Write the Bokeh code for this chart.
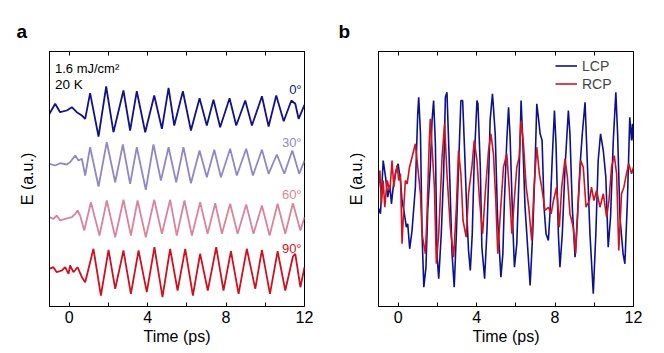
from bokeh.plotting import figure
from bokeh.models import FixedTicker, LinearAxis, Label, Range1d, Legend, LegendItem
from bokeh.layouts import row
from bokeh.embed import file_html
from bokeh.resources import INLINE

FONT = "Liberation Sans"

# ---------------- Panel a data (time in ps, E in a.u., vertically offset traces) ----------------
t_0 = [-1.0, -0.71, -0.46, -0.12, 0.14, 0.39, 0.65, 0.82, 1.07, 1.50, 1.89, 2.26, 2.77, 3.11, 3.45, 3.88,
       4.34, 4.73, 5.07, 5.36, 5.80, 6.21, 6.65, 7.02, 7.36, 7.70, 8.18, 8.52, 8.98, 9.32, 9.83, 10.17,
       10.56, 10.94, 11.33, 11.53, 11.70, 12.0]
e_0 = [192.7, 202.7, 194.3, 196, 199.3, 194.3, 191, 187.7, 213.3, 170, 220, 174.3, 216, 176, 215.3, 174.3,
       211, 177.7, 218.7, 181, 215.3, 176, 208.3, 181, 206.7, 179.3, 208.3, 181, 206, 181, 210.3, 180,
       211, 185.3, 206, 202.7, 187.7, 201.7]

t_30 = [-1.0, -0.71, -0.46, -0.12, 0.05, 0.31, 0.48, 0.65, 0.82, 1.07, 1.50, 1.92, 2.35, 2.74, 3.11, 3.45,
        3.91, 4.30, 4.68, 5.07, 5.46, 5.83, 6.21, 6.65, 7.02, 7.40, 7.74, 8.21, 8.55, 9.03, 9.37, 9.83,
        10.17, 10.59, 10.97, 11.38, 11.73, 12.0]
e_30 = [142.7, 141, 143.3, 142, 144.3, 151, 146, 147.7, 131, 159.3, 120, 164.3, 124.3, 162, 122.7, 159.3,
        116.7, 162, 126, 159.3, 124.3, 159.3, 123.3, 156, 129.3, 156.7, 129.3, 157.7, 131, 157.7, 131, 156.7,
        132.7, 152, 132.7, 156, 132.7, 146]

t_60 = [-1.0, -0.80, -0.63, -0.46, -0.20, 0.14, 0.31, 0.43, 0.56, 0.77, 1.11, 1.55, 1.92, 2.35, 2.77, 3.15,
        3.49, 3.91, 4.34, 4.73, 5.15, 5.49, 5.88, 6.26, 6.68, 7.06, 7.45, 7.79, 8.21, 8.59, 9.03, 9.40,
        9.83, 10.22, 10.63, 11.02, 11.41, 11.79, 12.0]
e_60 = [89.3, 87.7, 91, 86, 87.7, 89.3, 92.7, 96, 91, 76, 104.3, 71, 106, 69.3, 106.7, 71,
        106, 69.3, 106.7, 72.7, 106.7, 71, 106, 71, 104.3, 72.7, 103.3, 72.7, 102.7, 72.7, 102, 72.7,
        101, 71, 102.7, 72.7, 103.3, 76, 89.3]

t_90 = [-1.0, -0.80, -0.63, -0.37, -0.20, -0.03, 0.05, 0.22, 0.43, 0.65, 0.82, 1.24, 1.62, 2.01, 2.35, 2.77,
        3.15, 3.54, 3.96, 4.35, 4.76, 5.15, 5.53, 5.92, 6.31, 6.68, 7.07, 7.50, 7.87, 8.25, 8.64, 9.06,
        9.49, 9.83, 10.24, 10.63, 11.02, 11.41, 11.53, 11.79, 12.0]
e_90 = [37.7, 39.3, 34.3, 36, 39.3, 32.7, 41, 34.3, 39.3, 29.3, 24.3, 57.7, 11, 56.7, 17.7, 56,
        12.7, 56, 14.3, 59.3, 9.3, 57.7, 16, 57.7, 11, 52.7, 16, 59.3, 16, 55.3, 12.7, 57.7,
        17.7, 56.7, 12.7, 55.3, 16, 50, 52.7, 19.3, 39.3]

angle_labels = ["0°", "30°", "60°", "90°"]
angle_label_y = [217, 164, 112, 58]
angle_colors = ["#11118a", "#9187c6", "#d98499", "#d0101f"]

# ---------------- Panel b data ----------------
t_lcp = [-1.02, -0.90, -0.76, -0.64, -0.53, -0.42, -0.34, -0.25, -0.14, 0.0, 0.12, 0.20, 0.32, 0.42, 0.49, 0.59,
         0.71, 0.88, 1.00, 1.05, 1.14, 1.22, 1.31, 1.42, 1.51, 1.64, 1.73, 1.81, 1.90, 1.98, 2.07, 2.20,
         2.32, 2.41, 2.49, 2.59, 2.75, 2.86, 2.97, 3.08, 3.20, 3.29, 3.39, 3.51, 3.59, 3.68, 3.78, 3.88,
         4.02, 4.07, 4.19, 4.27, 4.41, 4.53, 4.63, 4.69, 4.81, 4.86, 4.95, 5.07, 5.24, 5.34, 5.42, 5.54,
         5.63, 5.71, 5.85, 5.93, 6.05, 6.17, 6.27, 6.36, 6.47, 6.56, 6.73, 6.86, 6.98, 7.07, 7.15, 7.24,
         7.34, 7.44, 7.54, 7.66, 7.75, 7.86, 7.97, 8.05, 8.17, 8.25, 8.37, 8.51, 8.68, 8.76, 8.88, 9.02,
         9.14, 9.27, 9.39, 9.53, 9.61, 9.78, 9.95, 10.08, 10.20, 10.32, 10.46, 10.59, 10.71, 10.83, 10.97, 11.10,
         11.19, 11.31, 11.47, 11.56, 11.69, 11.81, 11.90, 11.95, 12.0]
e_lcp = [99.3, 92.7, 146, 129.3, 109.3, 121, 102.7, 119.3, 132.7, 142.7, 126, 106, 92.7, 79.3, 82.7, 57.7,
         76, 119.3, 192.7, 209.3, 172.7, 72.7, 19.3, 39.3, 96, 139.3, 186, 206, 162.7, 52.7, 27.7, 72.7,
         132.7, 209.3, 214.3, 156, 52.7, 19.3, 72.7, 139.3, 206, 206, 156, 89.3, 56, 36, 72.7, 146,
         206, 202.7, 139.3, 59.3, 27.7, 76, 139.3, 186, 212.7, 199.3, 172.7, 89.3, 29.3, 52.7, 106, 166,
         199.3, 169.3, 79.3, 39.3, 62.7, 132.7, 206, 162.7, 99.3, 72.7, 21, 72.7, 139.3, 202.7, 189.3, 172.7,
         166, 99.3, 72.7, 66, 96, 149.3, 196, 162.7, 72.7, 39.3, 72.7, 139.3, 196, 172.7, 99.3, 49.3,
         89.3, 139.3, 172.7, 204.3, 162.7, 72.7, 12.7, 72.7, 146, 172.7, 156, 129.3, 59.3, 89.3, 166, 214.3,
         172.7, 89.3, 52.7, 42.7, 106, 189.3, 166, 182.7, 166]

t_rcp = [-1.02, -0.93, -0.85, -0.76, -0.68, -0.56, -0.42, -0.31, -0.22, -0.14, -0.05, 0.03, 0.12, 0.20, 0.29, 0.37,
         0.46, 0.58, 0.71, 0.88, 1.00, 1.14, 1.22, 1.39, 1.47, 1.59, 1.64, 1.73, 1.85, 1.95, 2.07, 2.24,
         2.37, 2.49, 2.66, 2.83, 2.97, 3.08, 3.20, 3.31, 3.47, 3.59, 3.76, 3.88, 4.02, 4.15, 4.31, 4.44,
         4.61, 4.73, 4.86, 4.98, 5.08, 5.20, 5.37, 5.54, 5.66, 5.80, 5.92, 6.05, 6.17, 6.27, 6.39, 6.53,
         6.66, 6.81, 6.93, 7.07, 7.20, 7.32, 7.49, 7.66, 7.80, 7.92, 8.08, 8.22, 8.34, 8.51, 8.63, 8.76,
         8.93, 9.05, 9.19, 9.31, 9.44, 9.58, 9.75, 9.86, 9.98, 10.12, 10.29, 10.46, 10.63, 10.75, 10.88, 11.02,
         11.14, 11.25, 11.39, 11.51, 11.64, 11.76, 11.90, 12.0]
e_rcp = [116, 136, 102.7, 126, 99.3, 126, 116, 146, 119.3, 132.7, 141, 126, 132.7, 62.7, 99.3, 126,
         122.7, 139.3, 149.3, 162.7, 139.3, 112.7, 72.7, 52.7, 89.3, 166, 187.7, 159.3, 119.3, 42.7, 72.7, 149.3,
         182.7, 132.7, 79.3, 49.3, 99.3, 156, 132.7, 86, 69.3, 112.7, 139.3, 166, 146, 106, 72.7, 112.7,
         156, 172.7, 152.7, 106, 52.7, 89.3, 139.3, 152.7, 119.3, 72.7, 106, 139.3, 149.3, 186, 162.7, 119.3,
         99.3, 66, 119.3, 159.3, 132.7, 119.3, 96, 99.3, 92.7, 106, 119.3, 79.3, 119.3, 147.7, 129.3, 92.7,
         79.3, 52.7, 106, 146, 139.3, 99.3, 106, 119.3, 106, 116, 99.3, 112.7, 89.3, 106, 139.3, 151,
         132.7, 56, 112.7, 119.3, 132.7, 142.7, 132.7, 139.3]

lcp_color = "#0c128c"
rcp_color = "#d0141f"

x_ticks = [0, 4, 8, 12]
x_minor = [2, 6, 10]

BORDER_TOP = 51
BORDER_BOTTOM = 46


def style(p, left_label, letter, letter_offset):
    p.grid.visible = False
    p.outline_line_color = "black"
    p.outline_line_width = 1
    p.background_fill_color = "white"
    p.border_fill_color = "white"
    p.title.text = letter
    p.title.align = "left"
    p.title.offset = letter_offset
    p.title.standoff = 19
    p.title.text_font = FONT
    p.title.text_font_size = "19px"
    p.title.text_font_style = "bold"
    p.title.text_color = "black"
    xa = p.xaxis[0]
    xa.ticker = FixedTicker(ticks=x_ticks, minor_ticks=x_minor)
    xa.major_tick_in = 4
    xa.major_tick_out = 0
    xa.minor_tick_in = 4
    xa.minor_tick_out = 0
    xa.axis_line_color = "black"
    xa.major_label_text_font = FONT
    xa.major_label_text_font_size = "16px"
    xa.major_label_text_color = "black"
    xa.major_label_standoff = 4
    xa.axis_label = "Time (ps)"
    xa.axis_label_text_font = FONT
    xa.axis_label_text_font_size = "16px"
    xa.axis_label_text_font_style = "normal"
    xa.axis_label_text_color = "black"
    xa.axis_label_standoff = 2
    ya = p.yaxis[0]
    ya.ticker = FixedTicker(ticks=[])
    ya.major_tick_in = 0
    ya.major_tick_out = 0
    ya.minor_tick_in = 0
    ya.minor_tick_out = 0
    ya.axis_label = left_label
    ya.axis_label_text_font = FONT
    ya.axis_label_text_font_size = "16px"
    ya.axis_label_text_font_style = "normal"
    ya.axis_label_text_color = "black"
    ya.axis_label_standoff = 14
    top = LinearAxis(ticker=FixedTicker(ticks=x_ticks, minor_ticks=x_minor),
                     major_tick_in=4, major_tick_out=0, minor_tick_in=4, minor_tick_out=0,
                     major_label_overrides={0: "", 4: "", 8: "", 12: ""},
                     major_label_standoff=0, axis_line_color="black")
    p.add_layout(top, "above")


# ---------------- Panel a ----------------
pa = figure(frame_width=255, frame_height=255, min_border_left=49, min_border_right=26,
            min_border_top=BORDER_TOP, min_border_bottom=BORDER_BOTTOM, output_backend="svg",
            toolbar_location=None, x_range=Range1d(-1, 12), y_range=Range1d(0, 255))
style(pa, "E (a.u.)", "a", -33)
for tt, ee, c in zip([t_0, t_30, t_60, t_90], [e_0, e_30, e_60, e_90], angle_colors):
    pa.line(tt, ee, line_color=c, line_width=1.8)
for txt, yy, c in zip(angle_labels, angle_label_y, angle_colors):
    pa.add_layout(Label(x=11.85, y=yy, text=txt, text_align="right", text_baseline="middle",
                        text_font=FONT, text_font_size="13px", text_color=c))
pa.add_layout(Label(x=-0.72, y=238, text="1.6 mJ/cm²", text_align="left", text_baseline="middle",
                    text_font=FONT, text_font_size="13px", text_color="black"))
pa.add_layout(Label(x=-0.72, y=222, text="20 K", text_align="left", text_baseline="middle",
                    text_font=FONT, text_font_size="13.5px", text_color="black"))

# ---------------- Panel b ----------------
pb = figure(frame_width=255, frame_height=255, min_border_left=48, min_border_right=20,
            min_border_top=BORDER_TOP, min_border_bottom=BORDER_BOTTOM, output_backend="svg",
            toolbar_location=None, x_range=Range1d(-1, 12), y_range=Range1d(0, 255))
style(pb, "E (a.u.)", "b", -40)
r_lcp = pb.line(t_lcp, e_lcp, line_color=lcp_color, line_width=1.6)
r_rcp = pb.line(t_rcp, e_rcp, line_color=rcp_color, line_width=1.6)
leg = Legend(items=[LegendItem(label="LCP", renderers=[r_lcp]), LegendItem(label="RCP", renderers=[r_rcp])],
             location=(177, 214), padding=0, margin=0, spacing=1, glyph_width=22, glyph_height=17,
             label_height=17, label_standoff=5, label_text_font=FONT, label_text_font_size="14px",
             background_fill_alpha=0, border_line_alpha=0)
pb.add_layout(leg)

layout = row(pa, pb)
open("out.html", "w").write(file_html(layout, INLINE))
